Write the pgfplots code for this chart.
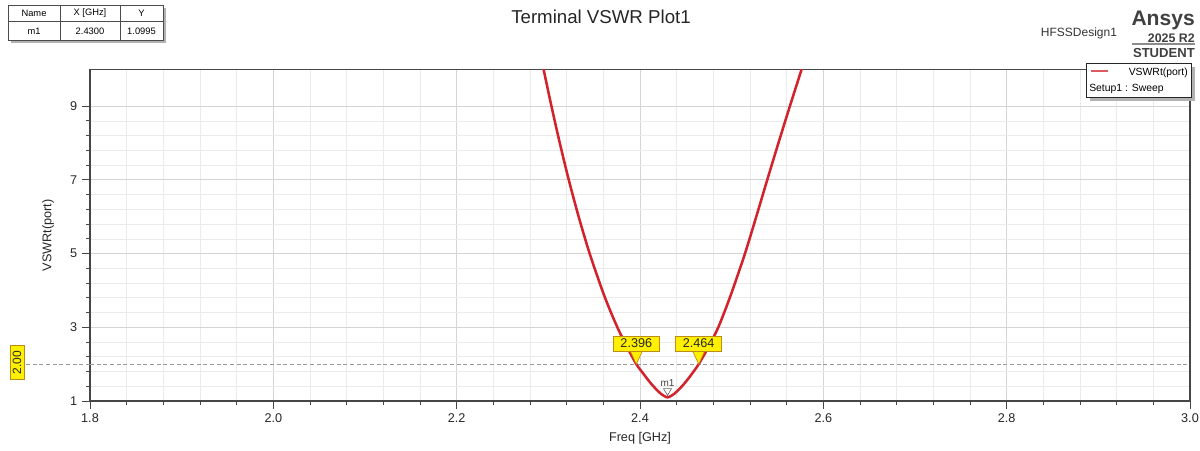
\documentclass[border=0pt]{standalone}
\usepackage{fontspec}
\setmainfont{Liberation Sans}
\usepackage{pgfplots}
\usepackage{pgfplotstable}
\pgfplotsset{compat=1.18}
\definecolor{vred}{RGB}{210,35,45}
\definecolor{mkyel}{RGB}{255,240,0}
\definecolor{mkedge}{RGB}{190,140,20}
\definecolor{axgray}{RGB}{70,70,70}

\pgfplotstableread{
f v
2.2878 10.8
2.2948 10
2.3034 9
2.3125 8
2.3223 7
2.3331 6
2.3451 5
2.3589 4
2.3667 3.5
2.3753 3
2.3851 2.5
2.3960 2
2.4034 1.75
2.4111 1.5
2.4183 1.3
2.4226 1.2
2.4300 1.0995
2.4376 1.2
2.4420 1.3
2.4493 1.5
2.4570 1.75
2.4640 2
2.4755 2.5
2.4854 3
2.4934 3.5
2.5008 4
2.5145 5
2.5268 6
2.5388 7
2.5510 8
2.5635 9
2.5763 10
2.5866 10.8
}\vswr

\begin{document}
\begin{tikzpicture}[x=0.75pt,y=0.75pt]
\useasboundingbox (0,0) rectangle (1200,450);
\begin{axis}[name=main, at={(67.5pt,36.75pt)}, anchor=south west, scale only axis,
  width=825pt, height=248.75pt,
  xmin=1.8, xmax=3.0, ymin=1, ymax=10,
  xtick={1.8,2.0,2.2,2.4,2.6,2.8,3.0}, minor x tick num=4,
  ytick={1,3,5,7,9}, minor y tick num=4,
  tick pos=left, tick align=outside,
  major tick length=6pt, minor tick length=3pt,
  grid=both,
  major grid style={draw=black!17, line width=0.6pt},
  minor grid style={draw=black!8, line width=0.5pt},
  axis line style={draw=axgray, line width=0.9pt},
  every tick/.style={draw=axgray, line width=0.7pt},
  xticklabel style={/pgf/number format/.cd, fixed, fixed zerofill, precision=1},
  /pgf/number format/assume math mode=true,
  ticklabel style={font=\fontsize{9.5}{11}\selectfont, text=black!85},
  xlabel={Freq [GHz]}, ylabel={VSWRt(port)},
  label style={font=\fontsize{9.5}{11}\selectfont, text=black!85},
  xlabel style={at={(axis description cs:0.5,-0.1115)}, anchor=center},
  ylabel style={at={(axis description cs:-0.0382,0.5)}, anchor=center},
]
\draw[black!40, line width=0.6pt, dash pattern=on 3pt off 2pt] (axis cs:1.8,2) -- (axis cs:3.0,2);
\coordinate (two) at (axis cs:1.8,2);
\addplot[vred, line width=1.9pt, smooth, tension=0.5] table[x=f,y=v]{\vswr};
% marker 2.396
\fill[mkyel] (axis cs:2.396,2) -- ++(-4.5pt,9.75pt) -- ++(9pt,0pt) -- cycle;
\draw[mkedge, line width=0.5pt] ([xshift=-4.5pt,yshift=9.75pt]axis cs:2.396,2) -- (axis cs:2.396,2) -- ([xshift=4.5pt,yshift=9.75pt]axis cs:2.396,2);
\node[fill=mkyel, draw=mkedge, line width=0.6pt, minimum width=34.5pt, minimum height=11.25pt, inner sep=0pt, anchor=south, font=\fontsize{9.5}{10}\selectfont, text=black!85] at ([yshift=9.5pt]axis cs:2.396,2) {2.396};
% marker 2.464
\fill[mkyel] (axis cs:2.464,2) -- ++(-4.5pt,9.75pt) -- ++(9pt,0pt) -- cycle;
\draw[mkedge, line width=0.5pt] ([xshift=-4.5pt,yshift=9.75pt]axis cs:2.464,2) -- (axis cs:2.464,2) -- ([xshift=4.5pt,yshift=9.75pt]axis cs:2.464,2);
\node[fill=mkyel, draw=mkedge, line width=0.6pt, minimum width=34.5pt, minimum height=11.25pt, inner sep=0pt, anchor=south, font=\fontsize{9.5}{10}\selectfont, text=black!85] at ([yshift=9.5pt]axis cs:2.464,2) {2.464};
% m1
\draw[black!60, line width=0.5pt] ([yshift=1.5pt]axis cs:2.43,1.0995) -- ++(-3pt,5pt) -- ++(6pt,0pt) -- cycle;
\node[font=\fontsize{7.5}{8}\selectfont, text=black!75, inner sep=0pt] at ([yshift=10.7pt]axis cs:2.43,1.0995) {m1};
\end{axis}
% 2.00 reference label
\draw[black!40, line width=0.6pt, dash pattern=on 3pt off 2pt] (two) -- ++(-48pt,0pt);
\node[rotate=90, fill=mkyel, draw=mkedge, line width=0.6pt, minimum width=26pt, minimum height=10.5pt, inner sep=0pt, font=\fontsize{9}{10}\selectfont, text=black!85] at (17,87.5) {2.00};
% title and branding
\node[font=\fontsize{14}{16}\selectfont, text=black!85] at (601,433) {Terminal VSWR Plot1};
\node[font=\fontsize{9}{10}\selectfont, text=black!80] at (1079,417) {HFSSDesign1};
\node[font=\bfseries\fontsize{15.8}{17}\selectfont, text=black!75, anchor=east, inner sep=0pt] at (1195,430) {Ansys};
\node[font=\bfseries\fontsize{9.3}{10}\selectfont, text=black!75, anchor=east, inner sep=0pt] at (1195,411.5) {2025 R2};
\draw[black!45, line width=0.8pt] (1132,406) -- (1195,406);
\node[font=\bfseries\fontsize{9.8}{10}\selectfont, text=black!75, anchor=east, inner sep=0pt] at (1195,396.5) {STUDENT};
% legend
\fill[black!30] (1090,383) rectangle (1195,349);
\draw[fill=white, draw=black!85, line width=0.6pt] (1086,387) rectangle (1191,353);
\draw[vred!75, line width=1.5pt] (1091,378.5) -- (1108,378.5);
\node[anchor=east, font=\fontsize{7.8}{9}\selectfont, inner sep=0pt] at (1188,377.5) {VSWRt(port)};
\node[anchor=west, font=\fontsize{7.8}{9}\selectfont, inner sep=0pt] at (1089,361.5) {Setup1 : Sweep};
% marker table
\fill[black!30] (11,442) rectangle (166,407);
\draw[fill=white, draw=black!70, line width=0.5pt] (8,445) rectangle (163,410);
\draw[black!70, line width=0.5pt] (8,428.3) -- (163,428.3) (60,445) -- (60,410) (120,445) -- (120,410);
\node[font=\fontsize{7}{8}\selectfont] at (34,436.7) {Name};
\node[font=\fontsize{7}{8}\selectfont] at (90,436.7) {X [GHz]};
\node[font=\fontsize{7}{8}\selectfont] at (141.5,436.7) {Y};
\node[font=\fontsize{7}{8}\selectfont] at (34,419) {m1};
\node[font=\fontsize{7}{8}\selectfont] at (90,419) {2.4300};
\node[font=\fontsize{7}{8}\selectfont] at (141.5,419) {1.0995};
\end{tikzpicture}
\end{document}
